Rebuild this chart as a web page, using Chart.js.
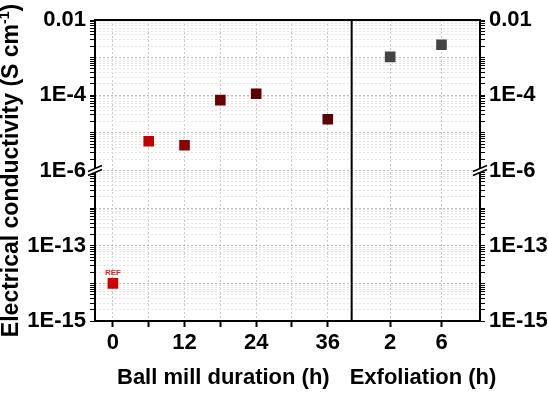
<!DOCTYPE html>
<html>
<head>
<meta charset="utf-8">
<script src="https://cdn.jsdelivr.net/npm/chart.js@4.4.1/dist/chart.umd.min.js"></script>
<style>
  html, body { margin: 0; padding: 0; background: #fff; }
  #wrap { width: 548px; height: 395px; position: relative; }
</style>
</head>
<body>
<div id="wrap"><canvas id="sigmaChart"></canvas></div>
<script>
// values
const ballHours = [6, 12, 18, 24, 36];
const ballSigma = [6.0e-6, 4.7e-6, 7.4e-5, 1.1e-4, 2.3e-5];
const ballColors = ['#c00000', '#8c0000', '#6a0000', '#5e0000', '#5c0008'];
const refHours = [0];
const refSigma = [1.0e-14];
const exfHours = [2, 6];
const exfSigma = [1.05e-3, 2.2e-3];

// tick labels
const ballTicks = [0, 6, 12, 18, 24, 30, 36];
const ballTickLabels = ['0', '', '12', '', '24', '', '36'];
const exfTicks = [2, 6];
const exfTickLabels = ['2', '6'];
const topExp = [-2, -4, -6];
const topExpLabels = ['0.01', '1E-4', '1E-6'];
const botExp = [-13, -15];
const botExpLabels = ['1E-13', '1E-15'];
const xTitles = { xBall: 'Ball mill duration (h)', xExf: 'Exfoliation (h)' };

const FONT = "'Liberation Sans', Arial, sans-serif";
const tickFont = { family: FONT, size: 22, weight: 'bold' };

function logTicks(lo, hi) {
    const out = [];
    for (let e = lo; e < hi; e++) {
        for (let m = 1; m < 10; m++) out.push({ value: m * Math.pow(10, e) });
    }
    out.push({ value: Math.pow(10, hi) });
    return out;
}
function isDecade(v) {
    const l = Math.log10(v);
    return Math.abs(l - Math.round(l)) < 1e-6;
}

function yAxis(pos, lo, hi, exps, labels, weight) {
    return {
        type: 'logarithmic',
        position: pos,
        stack: pos,
        stackWeight: 1,
        weight: weight,
        min: Math.pow(10, lo),
        max: Math.pow(10, hi),
        afterBuildTicks: s => { s.ticks = logTicks(lo, hi); },
        afterFit: s => { s.width = pos === 'left' ? 95 : 68; },
        border: { display: false, dash: [2, 2] },
        grid: {
            drawOnChartArea: pos === 'left',
            color: c => (c.tick && isDecade(c.tick.value)) ? '#bdbdbd' : '#e4e4e4',
            lineWidth: 1,
            tickLength: 5,
            tickColor: '#000',
            tickWidth: 1
        },
        ticks: {
            autoSkip: false,
            color: '#000',
            font: tickFont,
            padding: 4,
            callback: v => {
                const i = exps.indexOf(Math.round(Math.log10(v)));
                return (i >= 0 && isDecade(v)) ? labels[i] : '';
            }
        }
    };
}

function xAxis(min, max, ticks, labels, weight) {
    return {
        type: 'linear',
        position: 'bottom',
        stack: 'bottom',
        stackWeight: weight,
        weight: weight === 2 ? 1 : 2,
        min: min,
        max: max,
        afterBuildTicks: s => { s.ticks = ticks.map(v => ({ value: v })); },
        afterFit: s => { s.height = 74; },
        border: { display: false, dash: [2, 2] },
        grid: {
            color: '#c8c8c8',
            lineWidth: 1,
            tickLength: 6,
            tickColor: '#000',
            tickWidth: 2
        },
        ticks: {
            autoSkip: false,
            maxRotation: 0,
            color: '#000',
            font: tickFont,
            padding: 3,
            callback: v => {
                const i = ticks.indexOf(v);
                return i >= 0 ? labels[i] : '';
            }
        }
    };
}

const framePlugin = {
    id: 'frame',
    afterDatasetsDraw(chart) {
        const { ctx, chartArea: a, scales } = chart;
        ctx.save();
        ctx.strokeStyle = '#000';
        ctx.lineWidth = 2;
        ctx.strokeRect(a.left, a.top, a.right - a.left, a.bottom - a.top);
        const sepX = scales.xExf.left;
        ctx.beginPath();
        ctx.moveTo(sepX, a.top);
        ctx.lineTo(sepX, a.bottom);
        ctx.stroke();

        // axis break marks
        const by = scales.yTop.bottom;
        [a.left, a.right].forEach(x => {
            ctx.fillStyle = '#fff';
            ctx.beginPath();
            ctx.moveTo(x - 7, by + 1);
            ctx.lineTo(x + 7, by - 5);
            ctx.lineTo(x + 7, by - 1);
            ctx.lineTo(x - 7, by + 5);
            ctx.closePath();
            ctx.fill();
            ctx.lineWidth = 1.5;
            ctx.beginPath();
            ctx.moveTo(x - 7, by + 1);
            ctx.lineTo(x + 7, by - 5);
            ctx.moveTo(x - 7, by + 5);
            ctx.lineTo(x + 7, by - 1);
            ctx.stroke();
        });

        // REF label over the reference point
        const p = chart.getDatasetMeta(1).data[0];
        ctx.fillStyle = '#e02020';
        ctx.font = 'bold 8px ' + FONT;
        ctx.textAlign = 'center';
        ctx.textBaseline = 'middle';
        ctx.fillText('REF', p.x, p.y - 11);

        // x axis titles (no width squeeze)
        ctx.fillStyle = '#000';
        ctx.font = 'bold 22px ' + FONT;
        Object.keys(xTitles).forEach(id => {
            const s = scales[id];
            const w = ctx.measureText(xTitles[id]).width;
            const cx = Math.max((s.left + s.right) / 2, s.left + w / 2 - 2);
            ctx.fillText(xTitles[id], cx, 378);
        });

        // y axis title with superscript
        const main = 'Electrical conductivity (S cm';
        const sup = '-1';
        const tail = ')';
        ctx.font = 'bold 23px ' + FONT;
        const w1 = ctx.measureText(main).width;
        const w3 = ctx.measureText(tail).width;
        ctx.font = 'bold 14px ' + FONT;
        const w2 = ctx.measureText(sup).width;
        const total = w1 + w2 + w3;
        ctx.translate(12, (a.top + a.bottom) / 2);
        ctx.rotate(-Math.PI / 2);
        ctx.textAlign = 'left';
        ctx.textBaseline = 'middle';
        let x0 = -total / 2;
        ctx.font = 'bold 23px ' + FONT;
        ctx.fillText(main, x0, 0);
        ctx.font = 'bold 14px ' + FONT;
        ctx.fillText(sup, x0 + w1, -7);
        ctx.font = 'bold 23px ' + FONT;
        ctx.fillText(tail, x0 + w1 + w2, 0);
        ctx.restore();
    }
};

const ctx = document.getElementById('sigmaChart').getContext('2d');
const sigmaChart = new Chart(ctx, {
    type: 'scatter',
    data: {
        datasets: [
            {
                label: 'Ball mill',
                data: ballHours.map((h, i) => ({ x: h, y: ballSigma[i] })),
                xAxisID: 'xBall',
                yAxisID: 'yTop',
                backgroundColor: ballColors,
                borderColor: ballColors,
                borderWidth: 0,
                pointStyle: 'rect',
                pointRadius: 7.5,
                pointHoverRadius: 7.5
            },
            {
                label: 'REF',
                data: refHours.map((h, i) => ({ x: h, y: refSigma[i] })),
                xAxisID: 'xBall',
                yAxisID: 'yBot',
                backgroundColor: '#d00000',
                borderWidth: 0,
                pointStyle: 'rect',
                pointRadius: 7.5,
                pointHoverRadius: 7.5
            },
            {
                label: 'Exfoliation',
                data: exfHours.map((h, i) => ({ x: h, y: exfSigma[i] })),
                xAxisID: 'xExf',
                yAxisID: 'yTop',
                backgroundColor: '#444444',
                borderWidth: 0,
                pointStyle: 'rect',
                pointRadius: 7.5,
                pointHoverRadius: 7.5
            }
        ]
    },
    options: {
        responsive: true,
        maintainAspectRatio: false,
        animation: false,
        layout: { padding: { top: 20, left: 0, right: 0, bottom: 0 } },
        plugins: {
            legend: { display: false },
            tooltip: { enabled: false }
        },
        scales: {
            xBall: xAxis(-3, 40, ballTicks, ballTickLabels, 2),
            xExf: xAxis(-1, 9, exfTicks, exfTickLabels, 1),
            yTop: yAxis('left', -6, -2, topExp, topExpLabels, 2),
            yBot: yAxis('left', -15, -11, botExp, botExpLabels, 1),
            yTopR: yAxis('right', -6, -2, topExp, topExpLabels, 1),
            yBotR: yAxis('right', -15, -11, botExp, botExpLabels, 2)
        }
    },
    plugins: [framePlugin]
});
</script>
</body>
</html>
